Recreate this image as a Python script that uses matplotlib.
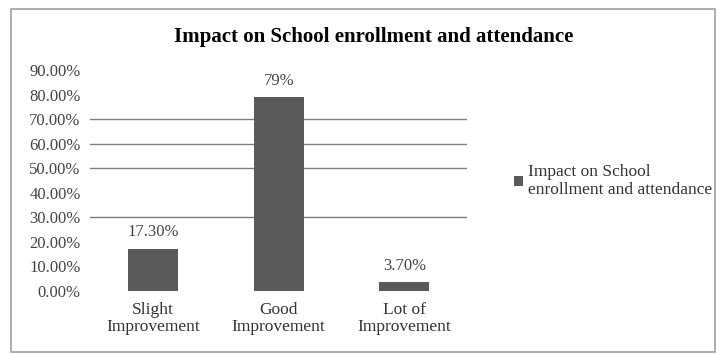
import matplotlib.pyplot as plt
from matplotlib.patches import Rectangle
from matplotlib.ticker import FuncFormatter

categories = ['Slight\nImprovement', 'Good\nImprovement', 'Lot of\nImprovement']
values = [17.3, 79, 3.7]
labels = ['17.30%', '79%', '3.70%']
grid_levels = [30, 50, 60, 70]

plt.rcParams['font.family'] = ['Liberation Serif', 'DejaVu Serif']

fig = plt.figure(figsize=(7.22, 3.54), dpi=100)
ax = fig.add_axes([0.125, 0.178, 0.522, 0.624])

# outer chart frame
fig.patches.append(Rectangle((0.015, 0.005), 0.975, 0.97, transform=fig.transFigure,
                             fill=False, edgecolor='#a0a0a0', linewidth=1.2))

for g in grid_levels:
    ax.axhline(g, color='#7f7f7f', linewidth=1, zorder=0)

x = range(len(categories))
bars = ax.bar(x, values, width=0.4, color='#5a5a5a', zorder=2,
              label='Impact on School\nenrollment and attendance')
for b, t in zip(bars, labels):
    ax.annotate(t, (b.get_x() + b.get_width() / 2, b.get_height()),
                xytext=(0, 6), textcoords='offset points',
                ha='center', va='bottom', fontsize=12, color='#444444')

ax.set_xlim(-0.5, 2.5)
ax.set_ylim(0, 90)
ax.set_yticks(range(0, 91, 10))
ax.yaxis.set_major_formatter(FuncFormatter(lambda v, p: f'{v:.2f}%'))
ax.set_xticks(list(x))
ax.set_xticklabels(categories, fontsize=12.5, color='#333333', linespacing=1.05)
ax.tick_params(axis='y', labelsize=12, colors='#444444', length=0, pad=7)
ax.tick_params(axis='x', length=0, pad=8)
for s in ax.spines.values():
    s.set_visible(False)

fig.text(0.517, 0.895, 'Impact on School enrollment and attendance',
         ha='center', va='center', fontsize=15, fontweight='bold')

ax.legend(loc='upper left', bbox_to_anchor=(1.105, 0.605), frameon=False,
          fontsize=12.5, handlelength=0.55, handleheight=0.55, handletextpad=0.25,
          borderaxespad=0, labelspacing=0)
for t in ax.get_legend().get_texts():
    t.set_linespacing(1.15)
    t.set_color('#333333')

fig.savefig('out.png', dpi=100)
